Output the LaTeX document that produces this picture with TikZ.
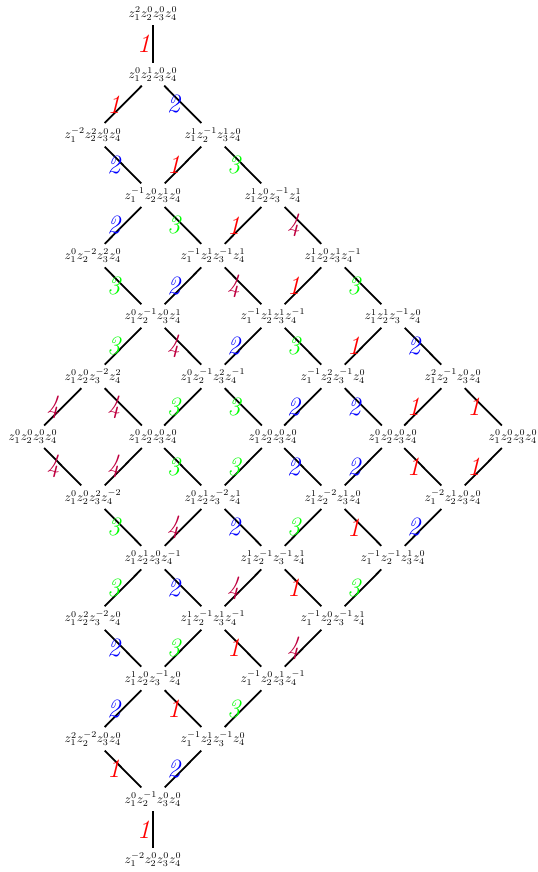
\documentclass[tikz,border=0pt]{standalone}

\begin{document}
\begin{tikzpicture}[x=1.6576cm,y=-1.6686cm,
    wt/.style={font=\normalsize},
    link/.style={line width=1.4pt},
    lab/.style={midway,left,inner sep=1.5pt,font=\huge\itshape},
    one/.style={lab,red},
    two/.style={lab,blue},
    three/.style={lab,green},
    four/.style={lab,purple}]

    % --- Frame (the right-most weight runs off the page) ---
    \clip (-0.55,-0.232) rectangle (8.4,14.205);

    % --- Weights, row by row ---
    \node[wt] (r0c2) at (2,0) {$z_1^{2}z_2^{0}z_3^{0}z_4^{0}$};
    \node[wt] (r1c2) at (2,1) {$z_1^{0}z_2^{1}z_3^{0}z_4^{0}$};

    \node[wt] (r2c1) at (1,2) {$z_1^{-2}z_2^{2}z_3^{0}z_4^{0}$};
    \node[wt] (r2c3) at (3,2) {$z_1^{1}z_2^{-1}z_3^{1}z_4^{0}$};

    \node[wt] (r3c2) at (2,3) {$z_1^{-1}z_2^{0}z_3^{1}z_4^{0}$};
    \node[wt] (r3c4) at (4,3) {$z_1^{1}z_2^{0}z_3^{-1}z_4^{1}$};

    \node[wt] (r4c1) at (1,4) {$z_1^{0}z_2^{-2}z_3^{2}z_4^{0}$};
    \node[wt] (r4c3) at (3,4) {$z_1^{-1}z_2^{1}z_3^{-1}z_4^{1}$};
    \node[wt] (r4c5) at (5,4) {$z_1^{1}z_2^{0}z_3^{1}z_4^{-1}$};

    \node[wt] (r5c2) at (2,5) {$z_1^{0}z_2^{-1}z_3^{0}z_4^{1}$};
    \node[wt] (r5c4) at (4,5) {$z_1^{-1}z_2^{1}z_3^{1}z_4^{-1}$};
    \node[wt] (r5c6) at (6,5) {$z_1^{1}z_2^{1}z_3^{-1}z_4^{0}$};

    \node[wt] (r6c1) at (1,6) {$z_1^{0}z_2^{0}z_3^{-2}z_4^{2}$};
    \node[wt] (r6c3) at (3,6) {$z_1^{0}z_2^{-1}z_3^{2}z_4^{-1}$};
    \node[wt] (r6c5) at (5,6) {$z_1^{-1}z_2^{2}z_3^{-1}z_4^{0}$};
    \node[wt] (r6c7) at (7,6) {$z_1^{2}z_2^{-1}z_3^{0}z_4^{0}$};

    \node[wt] (r7c0) at (0,7) {$z_1^{0}z_2^{0}z_3^{0}z_4^{0}$};
    \node[wt] (r7c2) at (2,7) {$z_1^{0}z_2^{0}z_3^{0}z_4^{0}$};
    \node[wt] (r7c4) at (4,7) {$z_1^{0}z_2^{0}z_3^{0}z_4^{0}$};
    \node[wt] (r7c6) at (6,7) {$z_1^{0}z_2^{0}z_3^{0}z_4^{0}$};
    \node[wt] (r7c8) at (8,7) {$z_1^{0}z_2^{0}z_3^{0}z_4^{0}$};

    \node[wt] (r8c1) at (1,8) {$z_1^{0}z_2^{0}z_3^{2}z_4^{-2}$};
    \node[wt] (r8c3) at (3,8) {$z_1^{0}z_2^{1}z_3^{-2}z_4^{1}$};
    \node[wt] (r8c5) at (5,8) {$z_1^{1}z_2^{-2}z_3^{1}z_4^{0}$};
    \node[wt] (r8c7) at (7,8) {$z_1^{-2}z_2^{1}z_3^{0}z_4^{0}$};

    \node[wt] (r9c2) at (2,9) {$z_1^{0}z_2^{1}z_3^{0}z_4^{-1}$};
    \node[wt] (r9c4) at (4,9) {$z_1^{1}z_2^{-1}z_3^{-1}z_4^{1}$};
    \node[wt] (r9c6) at (6,9) {$z_1^{-1}z_2^{-1}z_3^{1}z_4^{0}$};

    \node[wt] (r10c1) at (1,10) {$z_1^{0}z_2^{2}z_3^{-2}z_4^{0}$};
    \node[wt] (r10c3) at (3,10) {$z_1^{1}z_2^{-1}z_3^{1}z_4^{-1}$};
    \node[wt] (r10c5) at (5,10) {$z_1^{-1}z_2^{0}z_3^{-1}z_4^{1}$};

    \node[wt] (r11c2) at (2,11) {$z_1^{1}z_2^{0}z_3^{-1}z_4^{0}$};
    \node[wt] (r11c4) at (4,11) {$z_1^{-1}z_2^{0}z_3^{1}z_4^{-1}$};

    \node[wt] (r12c1) at (1,12) {$z_1^{2}z_2^{-2}z_3^{0}z_4^{0}$};
    \node[wt] (r12c3) at (3,12) {$z_1^{-1}z_2^{1}z_3^{-1}z_4^{0}$};

    \node[wt] (r13c2) at (2,13) {$z_1^{0}z_2^{-1}z_3^{0}z_4^{0}$};
    \node[wt] (r14c2) at (2,14) {$z_1^{-2}z_2^{0}z_3^{0}z_4^{0}$};

    % --- Upper half ---
    \draw[link] (r0c2) -- (r1c2) node[one] {1};

    \draw[link] (r1c2) -- (r2c1) node[one] {1};
    \draw[link] (r1c2) -- (r2c3) node[two] {2};

    \draw[link] (r2c1) -- (r3c2) node[two] {2};
    \draw[link] (r2c3) -- (r3c2) node[one] {1};
    \draw[link] (r2c3) -- (r3c4) node[three] {3};

    \draw[link] (r3c2) -- (r4c1) node[two] {2};
    \draw[link] (r3c2) -- (r4c3) node[three] {3};
    \draw[link] (r3c4) -- (r4c3) node[one] {1};
    \draw[link] (r3c4) -- (r4c5) node[four] {4};

    \draw[link] (r4c1) -- (r5c2) node[three] {3};
    \draw[link] (r4c3) -- (r5c2) node[two] {2};
    \draw[link] (r4c3) -- (r5c4) node[four] {4};
    \draw[link] (r4c5) -- (r5c4) node[one] {1};
    \draw[link] (r4c5) -- (r5c6) node[three] {3};

    \draw[link] (r5c2) -- (r6c1) node[three] {3};
    \draw[link] (r5c2) -- (r6c3) node[four] {4};
    \draw[link] (r5c4) -- (r6c3) node[two] {2};
    \draw[link] (r5c4) -- (r6c5) node[three] {3};
    \draw[link] (r5c6) -- (r6c5) node[one] {1};
    \draw[link] (r5c6) -- (r6c7) node[two] {2};

    % --- Middle (zero weights) ---
    \draw[link] (r6c1) -- (r7c0) node[four] {4};
    \draw[link] (r6c1) -- (r7c2) node[four] {4};
    \draw[link] (r6c3) -- (r7c2) node[three] {3};
    \draw[link] (r6c3) -- (r7c4) node[three] {3};
    \draw[link] (r6c5) -- (r7c4) node[two] {2};
    \draw[link] (r6c5) -- (r7c6) node[two] {2};
    \draw[link] (r6c7) -- (r7c6) node[one] {1};
    \draw[link] (r6c7) -- (r7c8) node[one] {1};

    \draw[link] (r7c0) -- (r8c1) node[four] {4};
    \draw[link] (r7c2) -- (r8c1) node[four] {4};
    \draw[link] (r7c2) -- (r8c3) node[three] {3};
    \draw[link] (r7c4) -- (r8c3) node[three] {3};
    \draw[link] (r7c4) -- (r8c5) node[two] {2};
    \draw[link] (r7c6) -- (r8c5) node[two] {2};
    \draw[link] (r7c6) -- (r8c7) node[one] {1};
    \draw[link] (r7c8) -- (r8c7) node[one] {1};

    % --- Lower half ---
    \draw[link] (r8c1) -- (r9c2) node[three] {3};
    \draw[link] (r8c3) -- (r9c2) node[four] {4};
    \draw[link] (r8c3) -- (r9c4) node[two] {2};
    \draw[link] (r8c5) -- (r9c4) node[three] {3};
    \draw[link] (r8c5) -- (r9c6) node[one] {1};
    \draw[link] (r8c7) -- (r9c6) node[two] {2};

    \draw[link] (r9c2) -- (r10c1) node[three] {3};
    \draw[link] (r9c2) -- (r10c3) node[two] {2};
    \draw[link] (r9c4) -- (r10c3) node[four] {4};
    \draw[link] (r9c4) -- (r10c5) node[one] {1};
    \draw[link] (r9c6) -- (r10c5) node[three] {3};

    \draw[link] (r10c1) -- (r11c2) node[two] {2};
    \draw[link] (r10c3) -- (r11c2) node[three] {3};
    \draw[link] (r10c3) -- (r11c4) node[one] {1};
    \draw[link] (r10c5) -- (r11c4) node[four] {4};

    \draw[link] (r11c2) -- (r12c1) node[two] {2};
    \draw[link] (r11c2) -- (r12c3) node[one] {1};
    \draw[link] (r11c4) -- (r12c3) node[three] {3};

    \draw[link] (r12c1) -- (r13c2) node[one] {1};
    \draw[link] (r12c3) -- (r13c2) node[two] {2};

    \draw[link] (r13c2) -- (r14c2) node[one] {1};

\end{tikzpicture}
\end{document}
